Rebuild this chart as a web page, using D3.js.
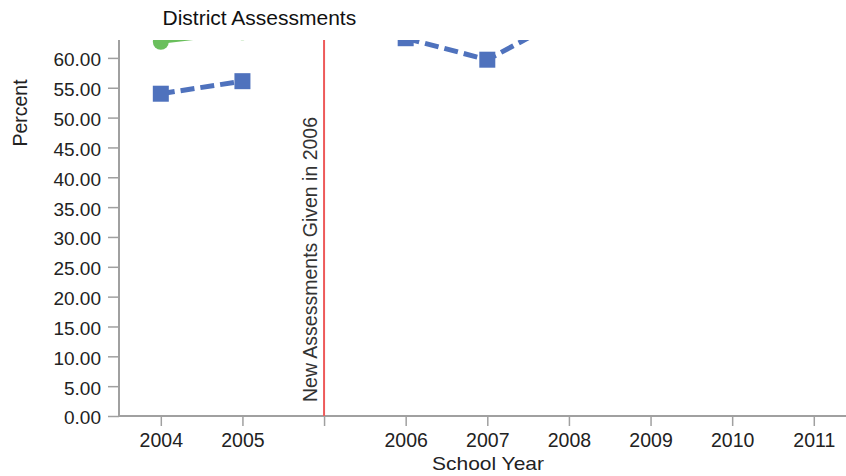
<!DOCTYPE html>
<html>
<head>
<meta charset="utf-8">
<script src="https://cdn.jsdelivr.net/npm/d3@7"></script>
<style>
  html, body { margin: 0; padding: 0; background: #fff; overflow: hidden; }
  svg { display: block; font-family: "Liberation Sans", Arial, sans-serif; }
</style>
</head>
<body>
<svg id="chart" width="846" height="476"></svg>
<script>
// ---- data ----
const categories = ["2004", "2005", "divider", "2006", "2007", "2008", "2009", "2010", "2011"];
const tickLabels = ["2004", "2005", "", "2006", "2007", "2008", "2009", "2010", "2011"];
const blueYears  = ["2004", "2005", "2006", "2007", "2008"];
const blueValues = [54.0, 56.1, 63.3, 59.7, 67.0];
const greenYears  = ["2004", "2005"];
const greenValues = [62.7, 64.3];
const yTicks = [0, 5, 10, 15, 20, 25, 30, 35, 40, 45, 50, 55, 60];
const dividerCategory = "divider";
const dividerLabel = "New Assessments Given in 2006";
const title = "District Assessments";
const xTitle = "School Year";
const yTitle = "Percent";

// ---- layout ----
const plot = { left: 119, top: 40, bottom: 416, right: 846 };
const svg = d3.select("#chart");

const x = d3.scalePoint().domain(categories).range([120, 854.6]).padding(0.5);
const y = d3.scaleLinear().domain([0, 63]).range([plot.bottom, plot.top]);

svg.append("defs").append("clipPath").attr("id", "plotClip")
  .append("rect").attr("x", plot.left).attr("y", plot.top)
  .attr("width", 900).attr("height", plot.bottom - plot.top);

// title
svg.append("text").attr("x", 162.5).attr("y", 25)
  .attr("font-size", 21).attr("fill", "#111").text(title);

// y axis
const yAxis = svg.append("g").attr("transform", `translate(${plot.left},0)`)
  .call(d3.axisLeft(y).tickValues(yTicks).tickFormat(d3.format(".2f")).tickSize(11).tickPadding(7));
yAxis.select(".domain").attr("stroke", "#a0a0a0").attr("stroke-width", 2)
  .attr("d", `M0,${plot.top}V${plot.bottom}`);
yAxis.selectAll(".tick line").attr("stroke", "#a0a0a0").attr("stroke-width", 1.5);
yAxis.selectAll(".tick text").attr("font-size", 19).attr("fill", "#222")
  .attr("font-family", "'Liberation Sans', Arial, sans-serif").attr("dy", "0.42em");

// x axis
const xAxis = svg.append("g").attr("transform", `translate(0,${plot.bottom})`)
  .call(d3.axisBottom(x).tickFormat(d => tickLabels[categories.indexOf(d)]).tickSize(10).tickPadding(7.5));
xAxis.select(".domain").attr("stroke", "#a0a0a0").attr("stroke-width", 2)
  .attr("d", `M${plot.left},0H900`);
xAxis.selectAll(".tick line").attr("stroke", "#a0a0a0").attr("stroke-width", 1.5);
xAxis.selectAll(".tick text").attr("font-size", 19.5).attr("fill", "#222")
  .attr("font-family", "'Liberation Sans', Arial, sans-serif");

// axis titles
svg.append("text").attr("x", 488).attr("y", 469.5).attr("text-anchor", "middle")
  .attr("font-size", 19).attr("textLength", 112).attr("lengthAdjust", "spacingAndGlyphs")
  .attr("fill", "#222").text(xTitle);
svg.append("text").attr("transform", "translate(27,113) rotate(-90)")
  .attr("text-anchor", "middle").attr("font-size", 19.5).attr("fill", "#222").text(yTitle);

// divider
const dx = x(dividerCategory);
svg.append("line").attr("x1", dx).attr("x2", dx).attr("y1", plot.top).attr("y2", plot.bottom)
  .attr("stroke", "#ee5a5a").attr("stroke-width", 2);
svg.append("text").attr("transform", `translate(${dx - 7},402) rotate(-90)`)
  .attr("font-size", 19.5).attr("fill", "#333").text(dividerLabel);

// series
const g = svg.append("g").attr("clip-path", "url(#plotClip)");

function segments(years, values) {
  // break the line at the divider
  const pre = [], post = [];
  years.forEach((yr, i) => {
    const pt = { c: yr, v: values[i] };
    if (categories.indexOf(yr) < categories.indexOf(dividerCategory)) pre.push(pt); else post.push(pt);
  });
  return [pre, post].filter(s => s.length > 1);
}
const line = d3.line().x(d => x(d.c)).y(d => y(d.v));

// green series
segments(greenYears, greenValues).forEach(seg => {
  g.append("path").datum(seg).attr("d", line).attr("fill", "none")
    .attr("stroke", "#6abf5c").attr("stroke-width", 4);
});
g.selectAll("circle.green").data(greenYears.map((c, i) => ({ c, v: greenValues[i] })))
  .join("circle").attr("class", "green")
  .attr("cx", d => x(d.c)).attr("cy", d => y(d.v)).attr("r", 8).attr("fill", "#6abf5c");

// blue series
segments(blueYears, blueValues).forEach(seg => {
  g.append("path").datum(seg).attr("d", line).attr("fill", "none")
    .attr("stroke", "#4f72bd").attr("stroke-width", 5).attr("stroke-dasharray", "14,6");
});
g.selectAll("rect.blue").data(blueYears.map((c, i) => ({ c, v: blueValues[i] })))
  .join("rect").attr("class", "blue")
  .attr("x", d => x(d.c) - 8).attr("y", d => y(d.v) - 8).attr("width", 16).attr("height", 16)
  .attr("fill", "#4f72bd");
</script>
</body>
</html>
